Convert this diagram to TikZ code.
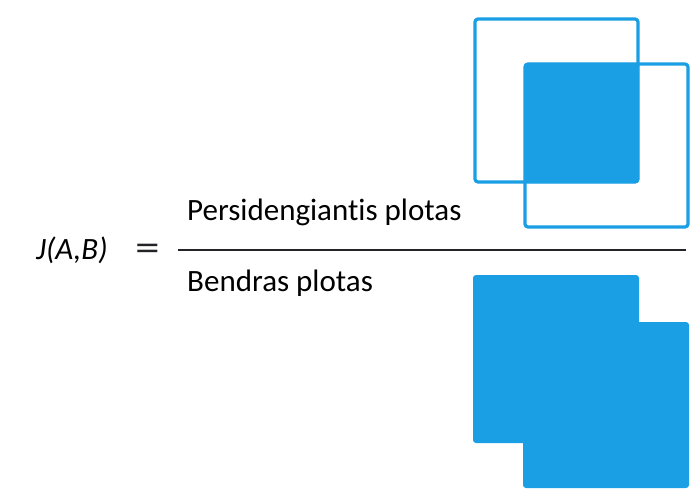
\documentclass[tikz,border=0pt]{standalone}
\usepackage{fontspec}
\usepackage{graphicx}
\setmainfont[Ligatures=NoCommon]{Carlito}
\definecolor{setblue}{RGB}{26,158,228}
\definecolor{barcol}{RGB}{35,35,40}
\begin{document}
\begin{tikzpicture}[x=1pt,y=-1pt,
  lbl/.style={anchor=base west,inner sep=0pt,font=\fontsize{31}{36}\selectfont},
  setline/.style={draw=setblue,line width=3.2pt,rounded corners=3pt},
  setfill/.style={fill=setblue,rounded corners=3pt}]
\useasboundingbox (0,0) rectangle (693,495);
% formula
\node[lbl] (j) at (36,259) {\textit{J(A,B)}};
\node[lbl,text=barcol] (eq) at (135,260) {\scalebox{1.3}[1]{\fontsize{38}{40}\selectfont =}};
\node[lbl] (num) at (187,220) {Persidengiantis plotas};
\node[lbl] (den) at (187,291) {Bendras plotas};
\coordinate (barL) at (178,250);
\coordinate (barR) at (686,250);
\draw[barcol,line width=2.2pt] (barL) -- (barR);
% intersection of A and B
\fill[setfill] (524,63) rectangle (639,183);
\draw[setline] (475,19) rectangle (638,182);
\draw[setline] (525,64) rectangle (688,227);
% union of A and B
\fill[setfill] (473,275) rectangle (639,443);
\fill[setfill] (523,322) rectangle (689,488);
\end{tikzpicture}
\end{document}
